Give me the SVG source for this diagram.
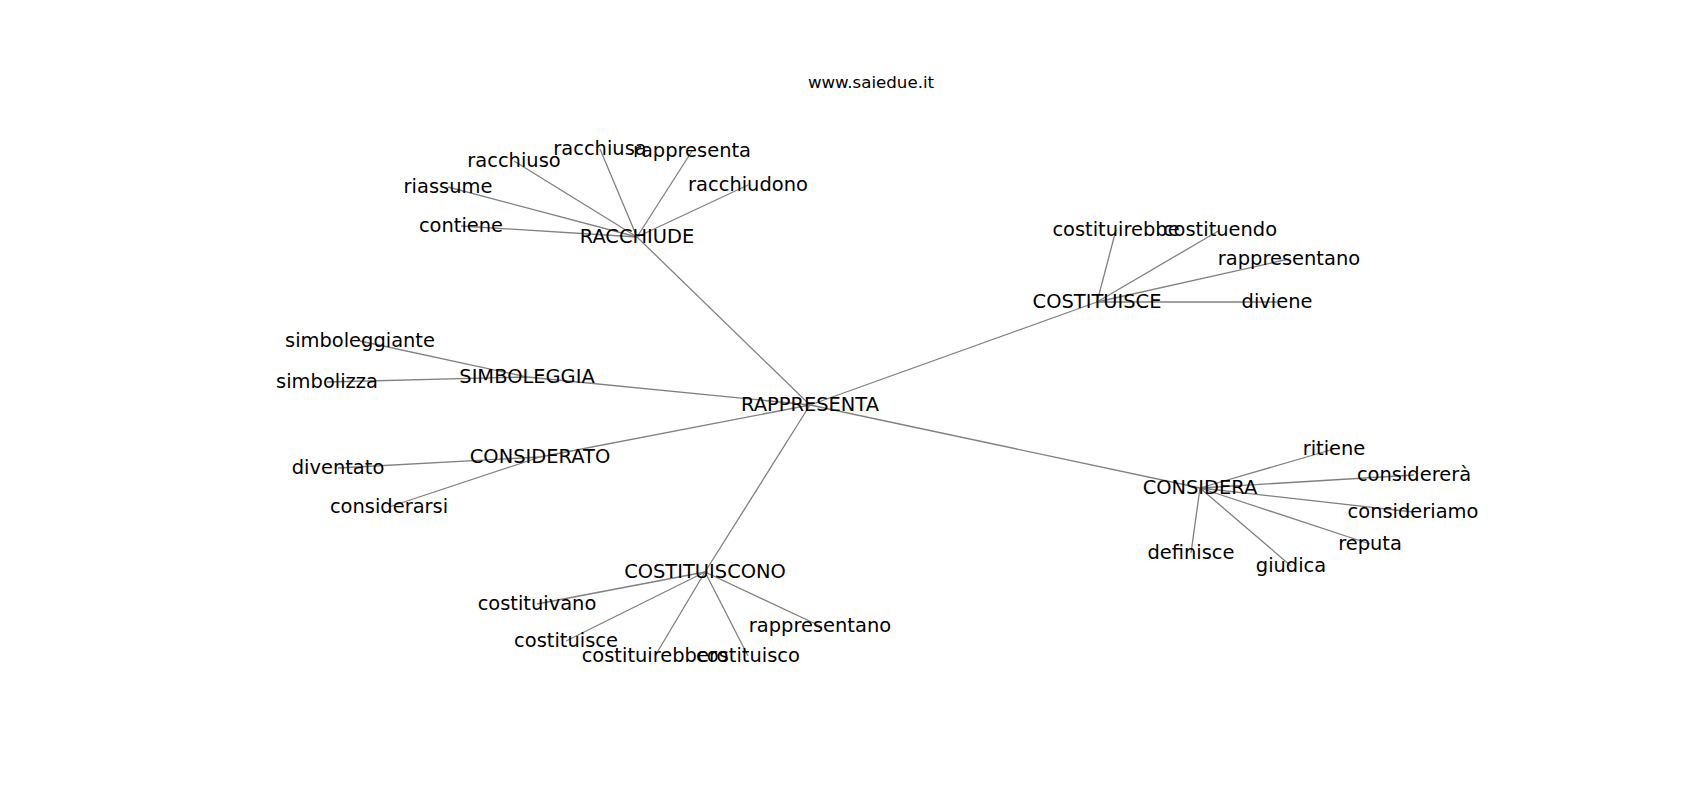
<svg xmlns="http://www.w3.org/2000/svg" width="1700" height="800" viewBox="0 0 1700 800">
<style>
.e{stroke:#808080;stroke-width:1.3;fill:none}
.l{font-family:"DejaVu Sans",sans-serif;font-size:19.44px;fill:#000;text-anchor:middle}
.t{font-family:"DejaVu Sans",sans-serif;font-size:16.67px;fill:#000;text-anchor:middle}
</style>
<rect width="1700" height="800" fill="#fff"/>
<text class="t" x="871" y="88">www.saiedue.it</text>
<g id="connectors">
<line class="e" x1="810" y1="405" x2="637" y2="237"/>
<line class="e" x1="810" y1="405" x2="1097" y2="302"/>
<line class="e" x1="810" y1="405" x2="527" y2="377"/>
<line class="e" x1="810" y1="405" x2="540" y2="457"/>
<line class="e" x1="810" y1="405" x2="1200" y2="488"/>
<line class="e" x1="810" y1="405" x2="705" y2="572"/>
<line class="e" x1="637" y1="237" x2="514" y2="161"/>
<line class="e" x1="637" y1="237" x2="600" y2="149"/>
<line class="e" x1="637" y1="237" x2="692" y2="151"/>
<line class="e" x1="637" y1="237" x2="748" y2="185"/>
<line class="e" x1="637" y1="237" x2="448" y2="187"/>
<line class="e" x1="637" y1="237" x2="461" y2="226"/>
<line class="e" x1="1097" y1="302" x2="1116" y2="230"/>
<line class="e" x1="1097" y1="302" x2="1220" y2="230"/>
<line class="e" x1="1097" y1="302" x2="1289" y2="259"/>
<line class="e" x1="1097" y1="302" x2="1277" y2="302"/>
<line class="e" x1="1200" y1="488" x2="1334" y2="449"/>
<line class="e" x1="1200" y1="488" x2="1414" y2="475"/>
<line class="e" x1="1200" y1="488" x2="1413" y2="512"/>
<line class="e" x1="1200" y1="488" x2="1370" y2="544"/>
<line class="e" x1="1200" y1="488" x2="1191" y2="553"/>
<line class="e" x1="1200" y1="488" x2="1291" y2="566"/>
<line class="e" x1="705" y1="572" x2="537" y2="604"/>
<line class="e" x1="705" y1="572" x2="566" y2="641"/>
<line class="e" x1="705" y1="572" x2="655" y2="656"/>
<line class="e" x1="705" y1="572" x2="748" y2="656"/>
<line class="e" x1="705" y1="572" x2="820" y2="626"/>
<line class="e" x1="527" y1="377" x2="360" y2="341"/>
<line class="e" x1="527" y1="377" x2="327" y2="382"/>
<line class="e" x1="540" y1="457" x2="338" y2="468"/>
<line class="e" x1="540" y1="457" x2="389" y2="507"/>
</g>
<g id="n-rappresenta"><text class="l" x="810" y="411">RAPPRESENTA</text></g>
<g id="n-racchiude"><text class="l" x="637" y="243">RACCHIUDE</text></g>
<g id="n-racchiuso"><text class="l" x="514" y="167">racchiuso</text></g>
<g id="n-racchiusa"><text class="l" x="600" y="155">racchiusa</text></g>
<g id="n-rappresenta2"><text class="l" x="692" y="157">rappresenta</text></g>
<g id="n-racchiudono"><text class="l" x="748" y="191">racchiudono</text></g>
<g id="n-riassume"><text class="l" x="448" y="193">riassume</text></g>
<g id="n-contiene"><text class="l" x="461" y="232">contiene</text></g>
<g id="n-costituisce-hub"><text class="l" x="1097" y="308">COSTITUISCE</text></g>
<g id="n-costituirebbe"><text class="l" x="1116" y="236">costituirebbe</text></g>
<g id="n-costituendo"><text class="l" x="1220" y="236">costituendo</text></g>
<g id="n-rappresentano1"><text class="l" x="1289" y="265">rappresentano</text></g>
<g id="n-diviene"><text class="l" x="1277" y="308">diviene</text></g>
<g id="n-considera"><text class="l" x="1200" y="494">CONSIDERA</text></g>
<g id="n-ritiene"><text class="l" x="1334" y="455">ritiene</text></g>
<g id="n-considerera"><text class="l" x="1414" y="481">considererà</text></g>
<g id="n-consideriamo"><text class="l" x="1413" y="518">consideriamo</text></g>
<g id="n-reputa"><text class="l" x="1370" y="550">reputa</text></g>
<g id="n-definisce"><text class="l" x="1191" y="559">definisce</text></g>
<g id="n-giudica"><text class="l" x="1291" y="572">giudica</text></g>
<g id="n-costituiscono"><text class="l" x="705" y="578">COSTITUISCONO</text></g>
<g id="n-costituivano"><text class="l" x="537" y="610">costituivano</text></g>
<g id="n-costituisce"><text class="l" x="566" y="647">costituisce</text></g>
<g id="n-costituirebbero"><text class="l" x="655" y="662">costituirebbero</text></g>
<g id="n-costituisco"><text class="l" x="748" y="662">costituisco</text></g>
<g id="n-rappresentano2"><text class="l" x="820" y="632">rappresentano</text></g>
<g id="n-simboleggia"><text class="l" x="527" y="383">SIMBOLEGGIA</text></g>
<g id="n-simboleggiante"><text class="l" x="360" y="347">simboleggiante</text></g>
<g id="n-simbolizza"><text class="l" x="327" y="388">simbolizza</text></g>
<g id="n-considerato"><text class="l" x="540" y="463">CONSIDERATO</text></g>
<g id="n-diventato"><text class="l" x="338" y="474">diventato</text></g>
<g id="n-considerarsi"><text class="l" x="389" y="513">considerarsi</text></g>
</svg>
